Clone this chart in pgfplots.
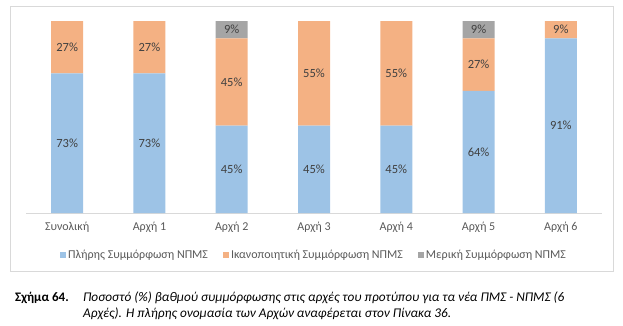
\documentclass[border=0pt]{standalone}
\usepackage{pgfplots}
\pgfplotsset{compat=1.18}
\usepackage{fontspec}
\setmainfont{Carlito}
\definecolor{cblue}{HTML}{9DC3E6}
\definecolor{corange}{HTML}{F4B183}
\definecolor{cgray}{HTML}{A5A5A5}
\definecolor{lbl}{HTML}{404040}
\definecolor{tickc}{HTML}{595959}
\definecolor{framec}{HTML}{D9D9D9}
\pgfplotsset{mylegend/.style={legend image code/.code={\fill[##1] (0pt,-3pt) rectangle (6pt,3pt);}}}
\begin{document}
\begin{tikzpicture}[x=1pt,y=1pt]
\useasboundingbox (0,0) rectangle (623,325);
\draw[framec, line width=0.8pt] (10,54) rectangle (613,319);
\begin{axis}[
  at={(26pt,112pt)}, anchor=south west,
  scale only axis, width=576pt, height=192pt,
  xmin=-0.5, xmax=6.5, ymin=0, ymax=100,
  ybar stacked, bar width=32pt,
  axis x line*=bottom, axis y line=none, ytick=\empty,
  x axis line style={framec, line width=0.8pt, -},
  xtick={0,1,2,3,4,5,6},
  xticklabels={Συνολική, Αρχή 1, Αρχή 2, Αρχή 3, Αρχή 4, Αρχή 5, Αρχή 6},
  major tick length=0pt,
  xticklabel style={font=\fontsize{12}{14}\selectfont, text=tickc, yshift=-6pt},
  legend style={at={(0.5,-0.219)}, anchor=center, draw=none, legend columns=3,
    font=\fontsize{12}{14}\selectfont, text=tickc,
    /tikz/every even column/.append style={column sep=13pt},
    inner sep=0pt},
  legend cell align=left,
]
\addplot[mylegend, fill=cblue, draw=none] coordinates {(0,72.73) (1,72.73) (2,45.45) (3,45.45) (4,45.45) (5,63.64) (6,90.91)};
\addplot[mylegend, fill=corange, draw=none] coordinates {(0,27.27) (1,27.27) (2,45.45) (3,54.55) (4,54.55) (5,27.27) (6,9.09)};
\addplot[mylegend, fill=cgray, draw=none] coordinates {(0,0) (1,0) (2,9.09) (3,0) (4,0) (5,9.09) (6,0)};
\legend{Πλήρης Συμμόρφωση ΝΠΜΣ, Ικανοποιητική Συμμόρφωση ΝΠΜΣ, Μερική Συμμόρφωση ΝΠΜΣ}
\end{axis}
\begin{axis}[
  at={(26pt,112pt)}, anchor=south west,
  scale only axis, width=576pt, height=192pt,
  xmin=-0.5, xmax=6.5, ymin=0, ymax=100, hide axis]
\addplot[draw=none, mark=none, nodes near coords, point meta=explicit symbolic,
  every node near coord/.append style={anchor=center, font=\fontsize{12.5}{14}\selectfont, text=lbl}]
  coordinates {
  (0,36.36)[73\%] (0,86.36)[27\%]
  (1,36.36)[73\%] (1,86.36)[27\%]
  (2,22.73)[45\%] (2,68.18)[45\%] (2,95.45)[9\%]
  (3,22.73)[45\%] (3,72.73)[55\%]
  (4,22.73)[45\%] (4,72.73)[55\%]
  (5,31.82)[64\%] (5,77.27)[27\%] (5,95.45)[9\%]
  (6,45.45)[91\%] (6,95.45)[9\%]
  };
\end{axis}
\node[anchor=base west, font=\fontsize{13}{15}\selectfont\bfseries, inner sep=0pt] at (15,24) {Σχήμα 64.};
\node[anchor=base west, font=\fontsize{13.3}{15}\selectfont\itshape, inner sep=0pt] at (83,24) {Ποσοστό (\%) βαθμού συμμόρφωσης στις αρχές του προτύπου για τα νέα ΠΜΣ - ΝΠΜΣ (6};
\node[anchor=base west, font=\fontsize{13.3}{15}\selectfont\itshape, inner sep=0pt] at (83,8) {Αρχές). Η πλήρης ονομασία των Αρχών αναφέρεται στον Πίνακα 36.};
\end{tikzpicture}
\end{document}
